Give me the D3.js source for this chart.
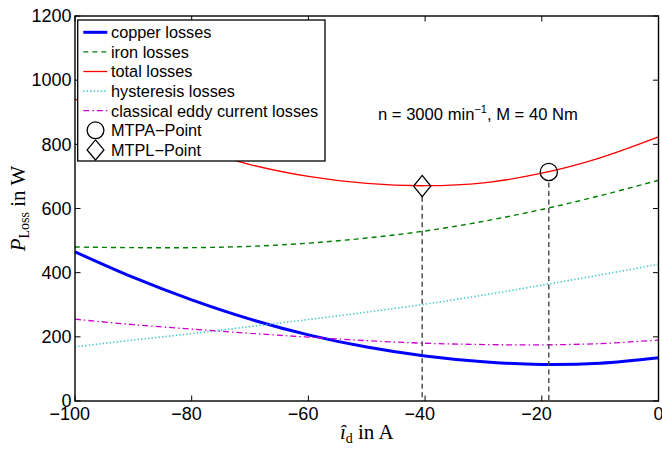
<!DOCTYPE html>
<html>
<head>
<meta charset="utf-8">
<script src="https://cdn.jsdelivr.net/npm/d3@7"></script>
<style>
  html, body { margin: 0; padding: 0; background: #fff; }
  svg { display: block; }
</style>
</head>
<body>
<svg id="chart" width="662" height="450"></svg>
<script>
// d-axis current samples in A
const currentD = [-100, -90, -80, -70, -60, -50, -40, -30, -20, -10, 0];
// loss components in W
const copperLosses     = [465, 385, 315, 255, 206, 168, 140, 122, 114, 118, 135];
const ironLosses       = [480, 478, 478, 482, 492, 508, 530, 560, 597, 640, 688];
const totalLosses      = [941, 862, 792, 737, 700, 678, 671, 680, 710, 758, 823];
const hysteresisLosses = [169, 190, 210, 232, 254, 277, 302, 330, 361, 393, 426];
const eddyLosses       = [255, 238, 224, 211, 199, 188, 180, 176, 175, 179, 190];
// operating points [i_d, P]
const mtpaPoint = [-18.8, 714];
const mtplPoint = [-40.5, 670];

const xTicks = [-100, -80, -60, -40, -20, 0];
const yTicks = [0, 200, 400, 600, 800, 1000, 1200];

const legendLabels = ["copper losses", "iron losses", "total losses", "hysteresis losses",
  "classical eddy current losses", "MTPA\u2212Point", "MTPL\u2212Point"];

const svg = d3.select("#chart");
const plotLeft = 75, plotRight = 658.5, plotTop = 16, plotBottom = 401;
const x = d3.scaleLinear().domain([-100, 0]).range([plotLeft, plotRight]);
const y = d3.scaleLinear().domain([0, 1200]).range([plotBottom, plotTop]);

const tickFont = "'Liberation Sans', Arial, Helvetica, sans-serif";
const serif = "'Liberation Serif', 'Times New Roman', serif";

const series = [
  { values: copperLosses, color: "#0000ff", width: 3, dash: null },
  { values: ironLosses, color: "#008000", width: 1.4, dash: "5,4" },
  { values: totalLosses, color: "#ff0000", width: 1.3, dash: null },
  { values: hysteresisLosses, color: "#3cc8c8", width: 1.6, dash: "1.3,2.2" },
  { values: eddyLosses, color: "#cc00cc", width: 1.3, dash: "6,3,1.5,3" }
];

const line = d3.line()
  .x(d => x(d[0]))
  .y(d => y(d[1]))
  .curve(d3.curveCatmullRom.alpha(0.5));

const plot = svg.append("g");
plot.append("defs").append("clipPath").attr("id", "clip")
  .append("rect").attr("x", plotLeft).attr("y", plotTop)
  .attr("width", plotRight - plotLeft).attr("height", plotBottom - plotTop);

const curves = plot.append("g").attr("clip-path", "url(#clip)");

series.forEach(s => {
  curves.append("path")
    .datum(currentD.map((c, i) => [c, s.values[i]]))
    .attr("fill", "none")
    .attr("stroke", s.color)
    .attr("stroke-width", s.width)
    .attr("stroke-dasharray", s.dash)
    .attr("d", line);
});

// vertical guides beneath the operating points
const markerR = 8.6;
[mtpaPoint, mtplPoint].forEach(p => {
  curves.append("line")
    .attr("x1", x(p[0])).attr("x2", x(p[0]))
    .attr("y1", y(p[1]) + markerR + 2).attr("y2", y(0))
    .attr("stroke", "#444").attr("stroke-width", 1.4)
    .attr("stroke-dasharray", "5,3.5");
});

const diamondPath = (cx, cy, hw, hh) =>
  `M${cx},${cy - hh}L${cx + hw},${cy}L${cx},${cy + hh}L${cx - hw},${cy}Z`;

curves.append("circle")
  .attr("cx", x(mtpaPoint[0])).attr("cy", y(mtpaPoint[1])).attr("r", markerR)
  .attr("fill", "none").attr("stroke", "#000").attr("stroke-width", 1.3);
curves.append("path")
  .attr("d", diamondPath(x(mtplPoint[0]), y(mtplPoint[1]), 8.6, 10.6))
  .attr("fill", "none").attr("stroke", "#000").attr("stroke-width", 1.3);

// axes with inward ticks on all four sides
const axisG = svg.append("g");
const tickLen = 5.5;
axisG.append("rect")
  .attr("x", plotLeft).attr("y", plotTop)
  .attr("width", plotRight - plotLeft).attr("height", plotBottom - plotTop)
  .attr("fill", "none").attr("stroke", "#000").attr("stroke-width", 1.4);

xTicks.forEach(t => {
  axisG.append("line").attr("x1", x(t)).attr("x2", x(t))
    .attr("y1", plotBottom).attr("y2", plotBottom - tickLen).attr("stroke", "#000");
  axisG.append("line").attr("x1", x(t)).attr("x2", x(t))
    .attr("y1", plotTop).attr("y2", plotTop + tickLen).attr("stroke", "#000");
  const lbl = axisG.append("text")
    .attr("x", x(t)).attr("y", 420)
    .attr("text-anchor", "middle")
    .attr("font-family", tickFont).attr("font-size", 18)
    .text(t < 0 ? "\u2212" + Math.abs(t) : String(t));
  if (t < 0) lbl.attr("dx", -0.292 * 18);
});

yTicks.forEach(t => {
  axisG.append("line").attr("x1", plotLeft).attr("x2", plotLeft + tickLen)
    .attr("y1", y(t)).attr("y2", y(t)).attr("stroke", "#000");
  axisG.append("line").attr("x1", plotRight).attr("x2", plotRight - tickLen)
    .attr("y1", y(t)).attr("y2", y(t)).attr("stroke", "#000");
  axisG.append("text")
    .attr("x", 71.5).attr("y", y(t) + 6.3)
    .attr("text-anchor", "end")
    .attr("font-family", tickFont).attr("font-size", 18)
    .text(String(t));
});

// axis titles
const xt = svg.append("text")
  .attr("x", (plotLeft + plotRight) / 2).attr("y", 439)
  .attr("text-anchor", "middle")
  .attr("font-family", serif).attr("font-size", 21);
xt.append("tspan").attr("font-style", "italic").text("\u00ee");
xt.append("tspan").attr("font-size", 14).attr("dy", 4).text("d");
xt.append("tspan").attr("dy", -4).text(" in A");

const yt = svg.append("text")
  .attr("transform", `translate(25,${(plotTop + plotBottom) / 2}) rotate(-90)`)
  .attr("text-anchor", "middle")
  .attr("font-family", serif).attr("font-size", 21);
yt.append("tspan").attr("font-style", "italic").text("P");
yt.append("tspan").attr("font-size", 14).attr("dy", 4).text("Loss");
yt.append("tspan").attr("dy", -4).text(" in W");

// operating condition note
const note = svg.append("text")
  .attr("x", 378).attr("y", 120)
  .attr("font-family", tickFont).attr("font-size", 16.6);
note.append("tspan").text("n = 3000 min");
note.append("tspan").attr("font-size", 11).attr("dy", -7).text("\u22121");
note.append("tspan").attr("dy", 7).text(", M = 40 Nm");

// legend
const lg = svg.append("g");
lg.append("rect")
  .attr("x", 77.7).attr("y", 20).attr("width", 247.3).attr("height", 141)
  .attr("fill", "#fff").attr("stroke", "#000").attr("stroke-width", 1.3);
const rowY = i => 32.3 + i * 19.6;
series.forEach((s, i) => {
  lg.append("line")
    .attr("x1", 83.3).attr("x2", 107.3).attr("y1", rowY(i)).attr("y2", rowY(i))
    .attr("stroke", s.color).attr("stroke-width", s.width)
    .attr("stroke-dasharray", s.dash);
});
lg.append("circle").attr("cx", 95.5).attr("cy", rowY(5)).attr("r", 8.4)
  .attr("fill", "none").attr("stroke", "#000").attr("stroke-width", 1.3);
lg.append("path").attr("d", diamondPath(95.5, rowY(6), 8.4, 10))
  .attr("fill", "none").attr("stroke", "#000").attr("stroke-width", 1.3);
legendLabels.forEach((t, i) => {
  lg.append("text")
    .attr("x", 111).attr("y", rowY(i) + 5.8)
    .attr("font-family", tickFont).attr("font-size", 16.3)
    .text(t);
});
</script>
</body>
</html>
